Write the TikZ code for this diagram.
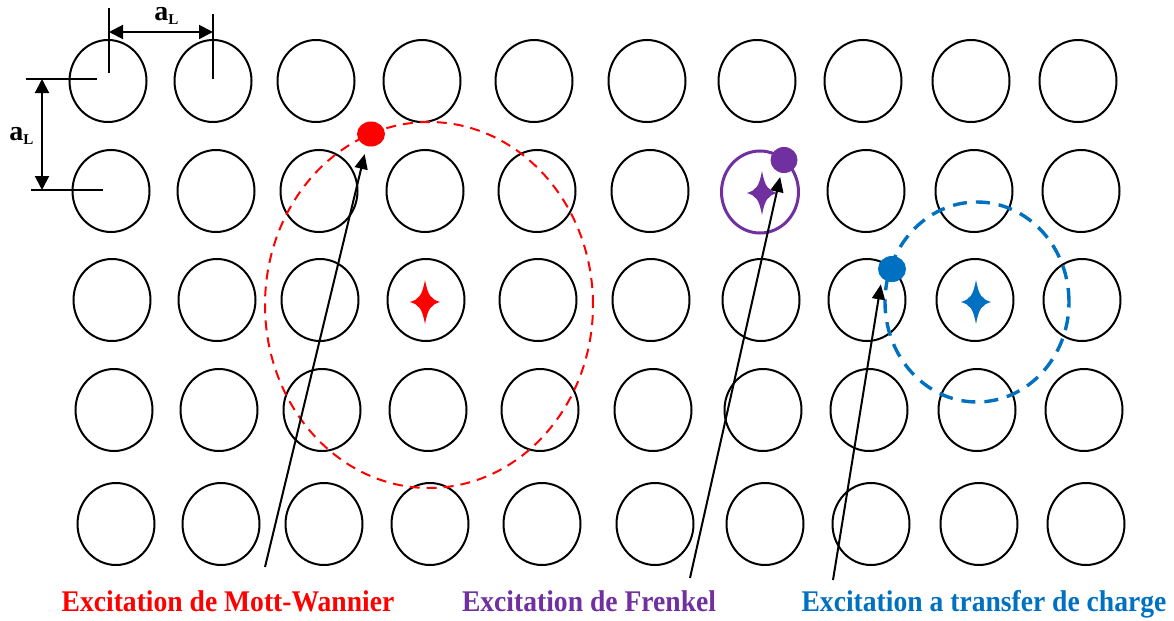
\documentclass[tikz,border=0pt]{standalone}
\usepackage{fontspec}
\setmainfont{Liberation Serif}
\usetikzlibrary{shapes.geometric,arrows.meta}
\definecolor{mwred}{RGB}{255,0,0}
\definecolor{frpurple}{RGB}{112,48,160}
\definecolor{ctblue}{RGB}{0,112,192}
\tikzset{
  atom/.style={ellipse, draw=black, line width=1pt, minimum width=38.5pt,
    minimum height=41pt, inner sep=0pt},
  mworbit/.style={ellipse, draw=mwred, line width=1pt, dash pattern=on 5pt off 3.5pt,
    minimum width=164pt, minimum height=183pt, inner sep=0pt},
  ctorbit/.style={ellipse, draw=ctblue, line width=1.7pt, dash pattern=on 7pt off 4.5pt,
    minimum width=92pt, minimum height=100pt, inner sep=0pt},
  electron/.style={ellipse, fill=#1, inner sep=0pt},
  pointer/.style={-{Triangle[length=7.5pt,width=6.5pt]}, line width=1pt},
  dimarrow/.style={{Triangle[length=7pt,width=7pt]}-{Triangle[length=7pt,width=7pt]},
    line width=1pt},
  dimline/.style={line width=0.9pt},
  caption/.style={font=\bfseries\fontsize{15}{18}\selectfont, anchor=base, inner sep=0pt},
  dimlabel/.style={anchor=base west, inner sep=0pt},
  sparkle/.pic={
    \fill (0,-22) .. controls (3,-6) and (6,-3) .. (15,0)
      .. controls (6,3) and (3,6) .. (0,22)
      .. controls (-3,6) and (-6,3) .. (-15,0)
      .. controls (-6,-3) and (-3,-6) .. cycle;
  }
}
\newcommand{\latconst}{{\fontsize{14}{16}\selectfont\bfseries a}\raisebox{-2pt}{\fontsize{7.5}{9}\selectfont\bfseries L}}
\newcommand{\narrow}[1]{\scalebox{0.92}[1]{#1}}
\begin{document}
\begin{tikzpicture}[x=0.5pt, y=-0.5pt]
  \useasboundingbox[fill=white] (0,0) rectangle (1174,621);

  % lattice of atoms: rows r=1..5, columns c=1..10
  \foreach \r/\ry/\dx in {1/81/-4, 2/191/-1, 3/300/0, 4/410/2, 5/524/4} {
    \foreach \c/\cx in {1/112, 2/217, 3/320, 4/426, 5/538, 6/651, 7/761, 8/867, 9/975, 10/1082} {
      \ifnum\r\c=27\relax
      \else
        \node[atom] (a-\r-\c) at (\cx+\dx, \ry) {};
      \fi
    }
  }
  % Frenkel exciton: the excited atom itself
  \node[atom, draw=frpurple, line width=1.5pt] (a-2-7) at (760,192) {};

  % exciton orbits
  \node[mworbit] (mw) at (429,305) {};
  \node[ctorbit] (ct) at (977,302) {};

  % holes
  \pic[mwred] at (425,302) {sparkle};
  \pic[frpurple] at (762,193) {sparkle};
  \pic[ctblue] at (976,302) {sparkle};

  % electrons
  \node[electron=mwred, minimum width=14pt, minimum height=12.5pt] (mwdot) at (371,134) {};
  \node[electron=frpurple, minimum width=13.5pt, minimum height=13pt] (frdot) at (784,160) {};
  \node[electron=ctblue, minimum width=14pt, minimum height=13pt] (ctdot) at (892,269) {};

  % captions
  \node[caption, text=mwred] (mwlabel) at (228,611) {\narrow{Excitation de Mott-Wannier}};
  \node[caption, text=frpurple] (frlabel) at (589,611) {\narrow{Excitation de Frenkel}};
  \node[caption, text=ctblue] (ctlabel) at (984,611) {\narrow{Excitation a transfer de charge}};

  % pointers from captions to the electrons
  \coordinate (mwfoot) at (265,567);
  \coordinate (frfoot) at (690,578);
  \coordinate (ctfoot) at (833,580);
  \draw[pointer, shorten >=4pt] (mwfoot) -- (mwdot.250);
  \draw[pointer, shorten >=2pt] (frfoot) -- (frdot);
  \draw[pointer, shorten >=3pt] (ctfoot) -- (ctdot.south west);

  % lattice constant, horizontal
  \coordinate (hxL) at (109,32);
  \coordinate (hxR) at (213,32);
  \draw[dimline] (109,8) -- (109,73);
  \draw[dimline] (213,14) -- (213,79);
  \draw[dimarrow] (hxL) -- (hxR);
  \node[dimlabel] (aLtop) at (154,20) {\latconst};

  % lattice constant, vertical
  \coordinate (vyT) at (42,79);
  \coordinate (vyB) at (42,190);
  \draw[dimline] (26,79) -- (97,79);
  \draw[dimline] (31,190) -- (103,190);
  \draw[dimarrow] (vyT) -- (vyB);
  \node[dimlabel] (aLside) at (9,140) {\latconst};
\end{tikzpicture}
\end{document}
